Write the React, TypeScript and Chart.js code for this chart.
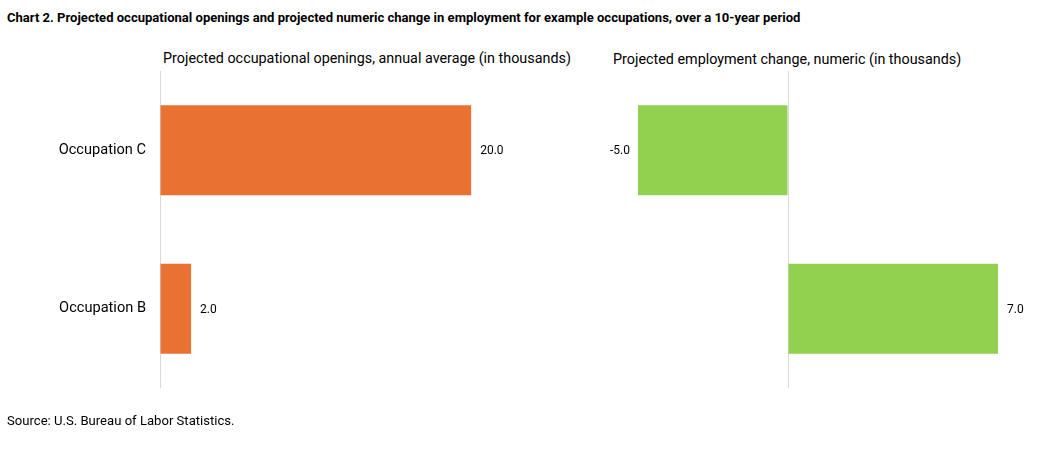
import React, { useEffect, useRef } from "react";
import { Chart, registerables } from "chart.js";

Chart.register(...registerables);

const categories = ["Occupation C", "Occupation B"];
const openings = [20.0, 2.0];
const employmentChange = [-5.0, 7.0];
const openingsRange = [0, 26];
const changeRange = [-6, 8];

const chartTitle =
  "Chart 2. Projected occupational openings and projected numeric change in employment for example occupations, over a 10-year period";
const leftTitle = "Projected occupational openings, annual average (in thousands)";
const rightTitle = "Projected employment change, numeric (in thousands)";
const sourceNote = "Source: U.S. Bureau of Labor Statistics.";

const ORANGE = "#E97132";
const GREEN = "#92D050";
const AXIS = "#D9D9D9";
const FONT = "Roboto, 'Noto Sans', sans-serif";

const valueLabels = {
  id: "valueLabels",
  afterDatasetsDraw(chart: any) {
    const ctx = chart.ctx;
    ctx.save();
    ctx.font = `12px ${FONT}`;
    ctx.fillStyle = "#000";
    ctx.textBaseline = "middle";
    chart.data.datasets.forEach((ds: any, di: number) => {
      const meta = chart.getDatasetMeta(di);
      meta.data.forEach((bar: any, i: number) => {
        const v = ds.data[i];
        const txt = v.toFixed(1);
        if (v >= 0) {
          ctx.textAlign = "left";
          ctx.fillText(txt, bar.x + 9, bar.y + 1);
        } else {
          ctx.textAlign = "right";
          ctx.fillText(txt, bar.x - 8, bar.y + 1);
        }
      });
    });
    ctx.restore();
  },
};

function makeConfig(
  data: number[],
  color: string,
  range: number[],
  showLabels: boolean,
  padding: any
): any {
  return {
    type: "bar",
    data: {
      labels: categories,
      datasets: [
        {
          data,
          backgroundColor: color,
          borderWidth: 0,
          barPercentage: 0.568,
          categoryPercentage: 1,
        },
      ],
    },
    plugins: [valueLabels],
    options: {
      indexAxis: "y",
      animation: false,
      responsive: false,
      devicePixelRatio: 1,
      layout: { padding },
      plugins: {
        legend: { display: false },
        tooltip: { enabled: false },
        title: { display: false },
      },
      scales: {
        x: {
          min: range[0],
          max: range[1],
          display: true,
          border: { display: false },
          grid: {
            drawTicks: false,
            lineWidth: 1,
            color: (c: any) => (c.tick && c.tick.value === 0 ? AXIS : "rgba(0,0,0,0)"),
          },
          ticks: { display: false, stepSize: 1 },
          afterFit: (s: any) => {
            s.height = 0;
          },
        },
        y: {
          display: showLabels,
          border: { display: false },
          grid: { display: false, drawTicks: false },
          ticks: {
            color: "#000",
            font: { family: FONT, size: 14.6 },
            padding: 14,
          },
          afterFit: (s: any) => {
            s.width = showLabels ? 160 : 0;
          },
        },
      },
    },
  };
}

export default function App() {
  const leftRef = useRef<HTMLCanvasElement>(null);
  const rightRef = useRef<HTMLCanvasElement>(null);

  useEffect(() => {
    const left = new Chart(
      leftRef.current as HTMLCanvasElement,
      makeConfig(openings, ORANGE, openingsRange, true, { top: 71, bottom: 65, left: 0, right: 15.5 })
    );
    const right = new Chart(
      rightRef.current as HTMLCanvasElement,
      makeConfig(employmentChange, GREEN, changeRange, false, { top: 71, bottom: 65, left: 28, right: 19 })
    );
    return () => {
      left.destroy();
      right.destroy();
    };
  }, []);

  const text: React.CSSProperties = {
    position: "absolute",
    fontFamily: FONT,
    color: "#000",
    whiteSpace: "nowrap",
    margin: 0,
  };

  return (
    <div
      style={{
        position: "absolute",
        left: 0,
        top: 0,
        width: 1047,
        height: 453,
        background: "#fff",
        overflow: "hidden",
      }}
    >
      <div style={{ ...text, left: 7, top: 9, fontSize: 13.05, fontWeight: 700, lineHeight: "18px" }}>
        {chartTitle}
      </div>
      <div style={{ ...text, left: 163, top: 50, fontSize: 14.35, lineHeight: "18px" }}>{leftTitle}</div>
      <div style={{ ...text, left: 613, top: 51, fontSize: 14.35, lineHeight: "18px" }}>{rightTitle}</div>
      <canvas
        ref={leftRef}
        width={580}
        height={453}
        style={{ position: "absolute", left: 0, top: 0, width: 580, height: 453 }}
      />
      <canvas
        ref={rightRef}
        width={467}
        height={453}
        style={{ position: "absolute", left: 580, top: 0, width: 467, height: 453 }}
      />
      <div style={{ ...text, left: 7, top: 412, fontSize: 13.1, lineHeight: "18px" }}>{sourceNote}</div>
    </div>
  );
}
